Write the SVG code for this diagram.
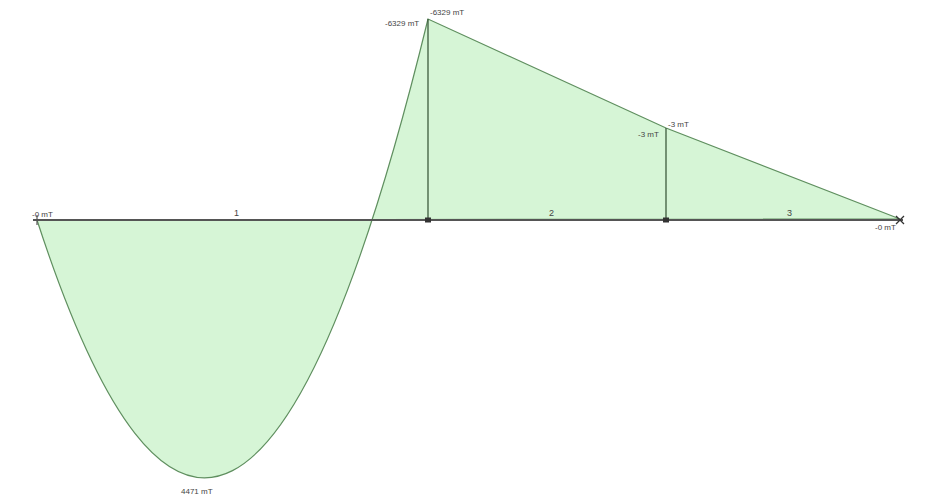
<svg xmlns="http://www.w3.org/2000/svg" width="935" height="496" viewBox="0 0 935 496">
<style>
.lbl{font-family:"Liberation Sans",Arial,sans-serif;font-size:8px;fill:#444}
.span{font-family:"Liberation Sans",Arial,sans-serif;font-size:9px;fill:#444}
.dia{fill:#d6f5d6;stroke:#5f8f5f;stroke-width:1.2}
.ord{stroke:#3d5a3d;stroke-width:1.3;fill:none}
.base{stroke:#555;stroke-width:1.8;fill:none}
.sup{fill:#333}
</style>
<rect width="935" height="496" fill="#fff"/>
<g id="diagram">
<path class="dia" d="M37,220 Q232.5,821.7 428,19 L666,128 L900,219 Z"/>
</g>
<g id="connectors">
<line class="base" x1="33" y1="220" x2="903" y2="220"/>
<line class="ord" x1="428" y1="19" x2="428" y2="220"/>
<line class="ord" x1="666" y1="128" x2="666" y2="220"/>
</g>
<g id="supports">
<rect class="sup" x="425" y="217.5" width="6" height="5"/>
<rect class="sup" x="663" y="217.5" width="6" height="5"/>
<path d="M896,216 L904,224 M904,216 L896,224" stroke="#333" stroke-width="1.3"/>
<line x1="37" y1="215" x2="37" y2="225" stroke="#555" stroke-width="1.2"/>
</g>
<g id="labels">
<text class="lbl" x="385" y="26">-6329 mT</text>
<text class="lbl" x="430" y="15">-6329 mT</text>
<text class="lbl" x="638" y="137">-3 mT</text>
<text class="lbl" x="668" y="127">-3 mT</text>
<text class="lbl" x="32" y="217">-0 mT</text>
<text class="lbl" x="875" y="230">-0 mT</text>
<text class="lbl" x="181" y="494">4471 mT</text>
<text class="span" x="234" y="216">1</text>
<text class="span" x="549" y="216">2</text>
<text class="span" x="787" y="216">3</text>
</g>
</svg>
